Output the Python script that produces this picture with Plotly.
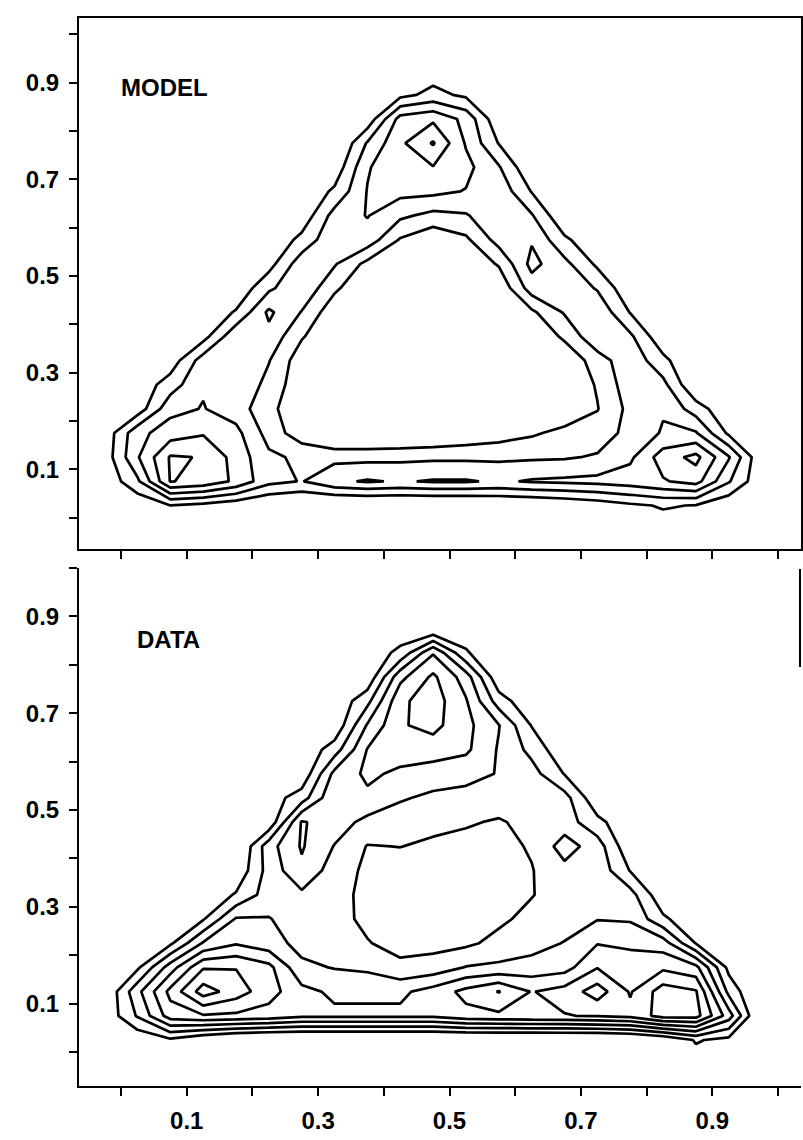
import plotly.graph_objects as go

# Bin centres of the 0.05 grid on which both surfaces are tabulated
x_grid = [-0.025, 0.025, 0.075, 0.125, 0.175, 0.225, 0.275, 0.325, 0.375, 0.425, 0.475,
          0.525, 0.575, 0.625, 0.675, 0.725, 0.775, 0.825, 0.875, 0.925, 0.975, 1.025]
y_grid = [-0.025, 0.025, 0.075, 0.125, 0.175, 0.225, 0.275, 0.325, 0.375, 0.425,
          0.475, 0.525, 0.575, 0.625, 0.675, 0.725, 0.775, 0.825, 0.875, 0.925]

# Model surface (rows run from bottom to top, in contour-level units)
model_z = [
    [0] * 22,
    [-0.3, -0.3, 0.48, 0.2, -0.2, -0.6, -0.8, -0.9, -0.9, -0.9, -0.9, -0.9, -0.7, -0.6, -0.4, -0.1, 0.3, 0.6, 0.45, -0.3, -0.3, 0],
    [-0.3, 1.3, 4.55, 4.2, 3.3, 1.8, 1.45, 2.3, 2.6, 2.4, 2.6, 2.6, 2.35, 2.6, 2.7, 2.8, 3.0, 3.4, 3.9, 1.6, -0.3, 0],
    [-0.1, 2.4, 4.6, 4.45, 3.1, 1.7, 1.3, 1.2, 1.2, 1.25, 1.3, 1.3, 1.3, 1.35, 1.4, 1.6, 2.3, 4.0, 4.8, 2.6, -0.4, 0],
    [-0.2, 2.2, 3.0, 3.4, 2.8, 1.1, -0.1, -0.9, -0.9, -0.8, -0.6, -0.3, 0.0, 0.35, 0.8, 1.0, 1.8, 2.6, 2.6, 0.3, -0.3, 0],
    [-0.3, -0.1, 2.2, 2.55, 2.0, 0.8, -0.3, -0.3, -0.3, -0.3, -0.3, -0.3, -0.3, -0.3, -0.3, 0.45, 1.8, 2.4, 1.0, -0.3, 0, 0],
    [-0.3, -0.2, 1.0, 2.4, 2.3, 1.2, -0.2, -0.3, -0.3, -0.3, -0.3, -0.3, -0.3, -0.3, -0.4, 0.6, 2.1, 1.8, -0.5, -0.3, 0, 0],
    [0, -0.3, -0.1, 2.0, 2.35, 1.55, -0.1, -0.3, -0.3, -0.3, -0.3, -0.3, -0.3, -0.3, -0.3, 1.0, 2.2, 0.8, -0.6, 0, 0, 0],
    [0, -0.3, -0.3, 0.1, 2.3, 2.2, 0.6, -0.4, -0.4, -0.4, -0.4, -0.4, -0.4, -0.4, 0.7, 2.3, 1.7, -0.3, 0, 0, 0, 0],
    [0, 0, -0.3, -0.3, 0.6, 2.7, 1.45, -0.2, -0.4, -0.4, -0.4, -0.4, -0.4, 0.3, 1.6, 2.3, 0.45, -0.3, 0, 0, 0, 0],
    [0, 0, 0, -0.3, -0.3, 1.3, 2.3, 0.7, -0.4, -0.4, -0.4, -0.4, -0.3, 2.0, 2.3, 1.4, -0.3, 0, 0, 0, 0, 0],
    [0, 0, 0, 0, -0.3, 0.1, 2.1, 1.6, 0.2, -0.4, -0.4, -0.3, 0.6, 2.8, 1.8, 0.3, -0.3, 0, 0, 0, 0, 0],
    [0, 0, 0, 0, 0, -0.4, 0.8, 2.3, 2.1, 0.4, -0.3, 0.3, 1.9, 2.4, 0.7, -0.3, 0, 0, 0, 0, 0, 0],
    [0, 0, 0, 0, 0, -0.3, -0.2, 1.9, 2.55, 1.7, 1.2, 1.4, 2.3, 1.6, -0.4, 0, 0, 0, 0, 0, 0, 0],
    [0, 0, 0, 0, 0, 0, -0.4, 0.7, 2.55, 2.8, 2.75, 2.45, 2.2, 0.45, -0.3, 0, 0, 0, 0, 0, 0, 0],
    [0, 0, 0, 0, 0, 0, -0.3, -0.2, 2.4, 3.3, 3.45, 2.8, 1.6, -0.4, 0, 0, 0, 0, 0, 0, 0, 0],
    [0, 0, 0, 0, 0, 0, 0, -0.8, 1.6, 3.3, 4.6, 2.4, 0.45, -0.3, 0, 0, 0, 0, 0, 0, 0, 0],
    [0, 0, 0, 0, 0, 0, 0, 0, -0.2, 2.9, 3.3, 2.2, -0.3, 0, 0, 0, 0, 0, 0, 0, 0, 0],
    [0, 0, 0, 0, 0, 0, 0, 0, 0, 0.2, 0.8, 0.3, 0, 0, 0, 0, 0, 0, 0, 0, 0, 0],
    [0] * 22,
]

# Measured surface
data_z = [
    [0] * 22,
    [0, -0.3, 0.3, -0.5, -1.0, -1.2, -1.2, -1.2, -1.2, -1.2, -1.2, -1.2, -1.2, -1.2, -1.2, -1.2, -1.0, -0.5, 0.6, 0.2, -0.3, 0],
    [-0.3, 1.6, 4.0, 4.4, 4.3, 4.1, 3.7, 3.7, 3.7, 3.7, 3.7, 4.2, 4.3, 4.4, 4.45, 4.6, 4.8, 5.9, 5.9, 3.0, -1.0, 0],
    [-0.5, 2.2, 4.8, 7.0, 6.0, 4.9, 3.8, 3.3, 3.3, 3.3, 3.9, 4.8, 5.55, 4.45, 4.9, 6.0, 4.4, 6.0, 5.6, 1.2, -0.8, 0],
    [-0.3, 0.3, 3.0, 5.4, 5.45, 4.8, 2.7, 2.45, 2.3, 1.7, 1.9, 2.55, 2.7, 2.9, 3.1, 4.45, 4.3, 4.3, 3.8, 0.2, -0.3, 0],
    [0, -0.3, 0.3, 2.6, 3.4, 2.9, 2.2, 2.0, 1.55, 1.2, 1.2, 1.3, 1.8, 2.1, 2.55, 3.45, 3.2, 3.0, 0.45, -0.3, 0, 0],
    [0, 0, -0.3, 0.4, 2.6, 2.55, 2.0, 1.8, 1.3, 1.1, 1.1, 1.1, 1.3, 1.8, 2.0, 2.45, 2.4, 0.7, -0.3, 0, 0, 0],
    [0, 0, 0, -0.3, 0.6, 2.0, 2.3, 1.9, 1.2, 1.0, 1.0, 1.0, 1.1, 1.45, 2.0, 2.2, 1.9, -0.3, 0, 0, 0, 0],
    [0, 0, 0, 0, -0.3, 1.9, 3.3, 2.0, 1.3, 1.0, 1.0, 1.0, 1.1, 1.45, 2.2, 2.2, 0.45, -0.3, 0, 0, 0, 0],
    [0, 0, 0, 0, -0.8, 2.1, 3.6, 2.45, 1.45, 1.52, 1.3, 1.2, 1.2, 1.6, 2.95, 2.0, -0.3, 0, 0, 0, 0, 0],
    [0, 0, 0, 0, 0, -0.3, 3.6, 3.0, 2.2, 2.0, 1.8, 1.6, 1.4, 1.8, 2.0, 0.8, -0.3, 0, 0, 0, 0, 0],
    [0, 0, 0, 0, 0, 0, 1.0, 3.4, 3.3, 2.6, 2.3, 2.2, 2.0, 2.1, 1.9, -0.3, 0, 0, 0, 0, 0, 0],
    [0, 0, 0, 0, 0, 0, -0.3, 2.8, 3.7, 3.3, 3.0, 2.8, 2.45, 1.9, 0.45, 0, 0, 0, 0, 0, 0, 0],
    [0, 0, 0, 0, 0, 0, -0.3, 1.0, 3.55, 4.0, 4.0, 3.7, 2.4, 1.2, -0.3, 0, 0, 0, 0, 0, 0, 0],
    [0, 0, 0, 0, 0, 0, 0, -0.3, 2.6, 4.4, 4.8, 3.8, 2.55, 0.45, -0.2, 0, 0, 0, 0, 0, 0, 0],
    [0, 0, 0, 0, 0, 0, 0, -0.3, 1.2, 4.3, 5.0, 3.6, 1.0, -0.3, 0, 0, 0, 0, 0, 0, 0, 0],
    [0, 0, 0, 0, 0, 0, 0, 0, -0.3, 3.2, 4.7, 3.0, -0.3, 0, 0, 0, 0, 0, 0, 0, 0, 0],
    [0, 0, 0, 0, 0, 0, 0, 0, 0, 0.7, 3.4, 0.6, -0.3, 0, 0, 0, 0, 0, 0, 0, 0, 0],
    [0, 0, 0, 0, 0, 0, 0, 0, 0, 0, -0.5, 0, 0, 0, 0, 0, 0, 0, 0, 0, 0, 0],
    [0] * 22,
]

model_levels = [0.5, 4.5]
data_levels = [0.5, 6.5]

tick_values = [0.0, 0.1, 0.2, 0.3, 0.4, 0.5, 0.6, 0.7, 0.8, 0.9, 1.0]
tick_labels = ["", "0.1", "", "0.3", "", "0.5", "", "0.7", "", "0.9", ""]
panel_titles = ["MODEL", "DATA"]

W, H = 803, 1140
label_font = dict(family="Liberation Sans, Arial, sans-serif", size=24, color="black", weight="bold")

fig = go.Figure()


def contour(z, levels, xa, ya):
    return go.Contour(
        x=x_grid, y=y_grid, z=z,
        contours=dict(start=levels[0], end=levels[1], size=1, coloring="lines"),
        colorscale=[[0, "black"], [1, "black"]],
        line=dict(width=2.7, smoothing=0),
        showscale=False, hoverinfo="skip",
        xaxis=xa, yaxis=ya,
    )


fig.add_trace(contour(model_z, model_levels, "x", "y"))
fig.add_trace(contour(data_z, data_levels, "x2", "y2"))

x_dom = [79 / W, 801 / W]
axis_common = dict(
    showgrid=False, zeroline=False, ticks="outside", ticklen=8, tickwidth=1.6,
    tickcolor="black", linecolor="black", linewidth=2, showline=True,
    tickvals=tick_values,
)

fig.update_layout(
    width=W, height=H,
    margin=dict(l=0, r=0, t=0, b=0),
    paper_bgcolor="white", plot_bgcolor="white",
    showlegend=False,
    xaxis=dict(axis_common, domain=x_dom, range=[-0.064, 1.035], mirror=True,
               showticklabels=False, anchor="y"),
    yaxis=dict(axis_common, domain=[1 - 549 / H, 1 - 18 / H], range=[-0.065, 1.034],
               mirror=True, ticktext=tick_labels, tickfont=label_font,
               ticklabelstandoff=5, anchor="x"),
    xaxis2=dict(axis_common, domain=x_dom, range=[-0.064, 1.035], mirror=False,
                ticktext=tick_labels, tickfont=label_font, ticklabelstandoff=4,
                anchor="y2"),
    yaxis2=dict(axis_common, domain=[1 - 1086 / H, 1 - 568 / H], range=[-0.07, 1.0],
                mirror=False, ticktext=tick_labels, tickfont=label_font,
                ticklabelstandoff=5, anchor="x2"),
)

# partial right frame edge of the lower panel
fig.add_shape(type="line", xref="paper", yref="paper",
              x0=800 / W, x1=800 / W, y0=1 - 667 / H, y1=1 - 569 / H,
              line=dict(color="black", width=2))

fig.add_annotation(text=panel_titles[0], xref="paper", yref="paper",
                   x=119 / W, y=1 - 87 / H, xanchor="left", yanchor="middle",
                   showarrow=False, font=label_font)
fig.add_annotation(text=panel_titles[1], xref="paper", yref="paper",
                   x=135 / W, y=1 - 639 / H, xanchor="left", yanchor="middle",
                   showarrow=False, font=label_font)

fig.write_html("out.html")
